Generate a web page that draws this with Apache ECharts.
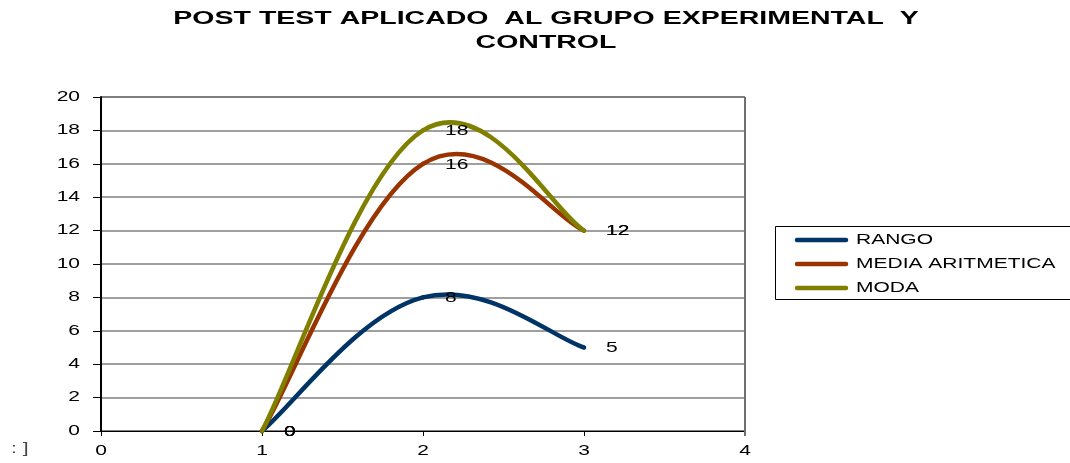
<!DOCTYPE html>
<html>
<head>
<meta charset="utf-8">
<script src="https://cdn.jsdelivr.net/npm/echarts@6/dist/echarts.min.js"></script>
<style>
  html, body { margin: 0; padding: 0; background: #fff; }
  #chart { width: 1070px; height: 463px; }
</style>
</head>
<body>
<div id="chart"></div>
<script>
// Post-test results: range, arithmetic mean and mode per group
const xValues = [1, 2, 3];
const rango = [0, 8, 5];
const mediaAritmetica = [0, 16, 12];
const moda = [0, 18, 12];
const seriesNames = ['RANGO', 'MEDIA ARITMETICA', 'MODA'];
const seriesColors = ['#003366', '#993300', '#808000'];
const xTickLabels = ['0', '1', '2', '3', '4'];
const yTickLabels = ['0', '2', '4', '6', '8', '10', '12', '14', '16', '18', '20'];
const titleLines = ['POST TEST APLICADO  AL GRUPO EXPERIMENTAL  Y', 'CONTROL'];

const FONT = 'Liberation Sans, Arial, sans-serif';
const WIDE = 1.5;      // horizontal stretch used by all chart text
const TENSION = 0.2;   // bezier control-point factor for the smoothed lines

const pairs = (vals) => xValues.map((x, i) => [x, vals[i]]);

const chart = echarts.init(document.getElementById('chart'), null, { renderer: 'canvas' });

// Each data item draws the curve segment to the next point plus its own value label.
function curveRenderer(vals, color) {
  return function (params, api) {
    const i = params.dataIndex;
    const pts = xValues.map((x, j) => api.coord([x, vals[j]]));
    const n = pts.length;
    const p1 = pts[i];
    const children = [];
    if (i < n - 1) {
      const p0 = pts[Math.max(i - 1, 0)];
      const p2 = pts[i + 1];
      const p3 = pts[Math.min(i + 2, n - 1)];
      children.push({
        type: 'bezierCurve',
        shape: {
          x1: p1[0], y1: p1[1],
          x2: p2[0], y2: p2[1],
          cpx1: p1[0] + (p2[0] - p0[0]) * TENSION,
          cpy1: p1[1] + (p2[1] - p0[1]) * TENSION,
          cpx2: p2[0] - (p3[0] - p1[0]) * TENSION,
          cpy2: p2[1] - (p3[1] - p1[1]) * TENSION
        },
        style: { stroke: color, lineWidth: 4.5, fill: null, lineCap: 'round', lineJoin: 'round' }
      });
    }
    children.push({
      type: 'text',
      x: p1[0] + 22,
      y: p1[1] + 1,
      scaleX: WIDE,
      z2: 10,
      style: {
        text: String(vals[i]),
        textAlign: 'left',
        textVerticalAlign: 'middle',
        font: '14px ' + FONT,
        fill: '#000'
      }
    });
    return { type: 'group', children: children };
  };
}

function curveSeries(name, vals, color) {
  return {
    name: name,
    type: 'custom',
    data: pairs(vals),
    encode: { x: 0, y: 1 },
    itemStyle: { color: color },
    renderItem: curveRenderer(vals, color),
    silent: true,
    animation: false
  };
}

const gridBox = { left: 101, right: 325, top: 97, bottom: 32 };

chart.setOption({
  backgroundColor: '#fff',
  animation: false,
  grid: Object.assign({
    show: true,
    borderColor: '#000',
    borderWidth: 1,
    backgroundColor: 'transparent'
  }, gridBox),
  xAxis: {
    type: 'value',
    min: 0,
    max: 4,
    interval: 1,
    axisLine: { show: true, onZero: false, lineStyle: { color: '#000', width: 1 } },
    axisTick: { show: true, inside: false, length: 5, lineStyle: { color: '#000' } },
    splitLine: { show: false },
    axisLabel: { show: false }
  },
  yAxis: {
    type: 'value',
    min: 0,
    max: 20,
    interval: 2,
    axisLine: { show: true, lineStyle: { color: '#000', width: 2 } },
    axisTick: { show: true, inside: false, length: 8, lineStyle: { color: '#000' } },
    splitLine: { show: true, lineStyle: { color: '#7f7f7f', width: 1.5 } },
    axisLabel: { show: false }
  },
  series: [
    curveSeries(seriesNames[0], rango, seriesColors[0]),
    curveSeries(seriesNames[1], mediaAritmetica, seriesColors[1]),
    curveSeries(seriesNames[2], moda, seriesColors[2])
  ]
});

// Tick labels, title and legend are drawn as stretched text; tick positions come from the axes.
const graphics = [];

xTickLabels.forEach((t) => {
  const px = chart.convertToPixel({ xAxisIndex: 0 }, Number(t));
  graphics.push({
    type: 'text', x: px, y: 451, scaleX: WIDE, silent: true,
    style: { text: t, textAlign: 'center', textVerticalAlign: 'middle', font: '14px ' + FONT, fill: '#000' }
  });
});

yTickLabels.forEach((t) => {
  const py = chart.convertToPixel({ yAxisIndex: 0 }, Number(t));
  graphics.push({
    type: 'text', x: 80, y: py, scaleX: WIDE, silent: true,
    style: { text: t, textAlign: 'right', textVerticalAlign: 'middle', font: '14px ' + FONT, fill: '#000' }
  });
});

// Grey right-hand edge of the plot frame
const frameRight = chart.convertToPixel({ xAxisIndex: 0 }, 4);
const frameTop = chart.convertToPixel({ yAxisIndex: 0 }, 20);
const frameBottom = chart.convertToPixel({ yAxisIndex: 0 }, 0);
graphics.push({
  type: 'line', silent: true, z: 5,
  shape: { x1: frameRight, y1: frameTop, x2: frameRight, y2: frameBottom + 5 },
  style: { stroke: '#6f6f6f', lineWidth: 2 }
});

titleLines.forEach((line, i) => {
  graphics.push({
    type: 'text', x: 546, y: 19 + i * 24, scaleX: WIDE, silent: true,
    style: { text: line, textAlign: 'center', textVerticalAlign: 'middle', font: 'bold 19px ' + FONT, fill: '#000' }
  });
});

// Legend box with line keys
graphics.push({
  type: 'rect', shape: { x: 775.5, y: 226.5, width: 310, height: 73 }, silent: true,
  style: { fill: 'none', stroke: '#000', lineWidth: 1 }
});
seriesNames.forEach((name, i) => {
  const cy = 240 + i * 24;
  graphics.push({
    type: 'line', shape: { x1: 797, y1: cy, x2: 846, y2: cy }, silent: true,
    style: { stroke: seriesColors[i], lineWidth: 4.5, lineCap: 'round' }
  });
  graphics.push({
    type: 'text', x: 856, y: cy, scaleX: 1.4, silent: true,
    style: { text: name, textAlign: 'left', textVerticalAlign: 'middle', font: '15px ' + FONT, fill: '#000' }
  });
});

graphics.push({
  type: 'text', x: 11, y: 449, scaleX: WIDE, silent: true,
  style: { text: ': ]', textAlign: 'left', textVerticalAlign: 'middle', font: '14px ' + FONT, fill: '#444' }
});

chart.setOption({ graphic: graphics });
</script>
</body>
</html>
